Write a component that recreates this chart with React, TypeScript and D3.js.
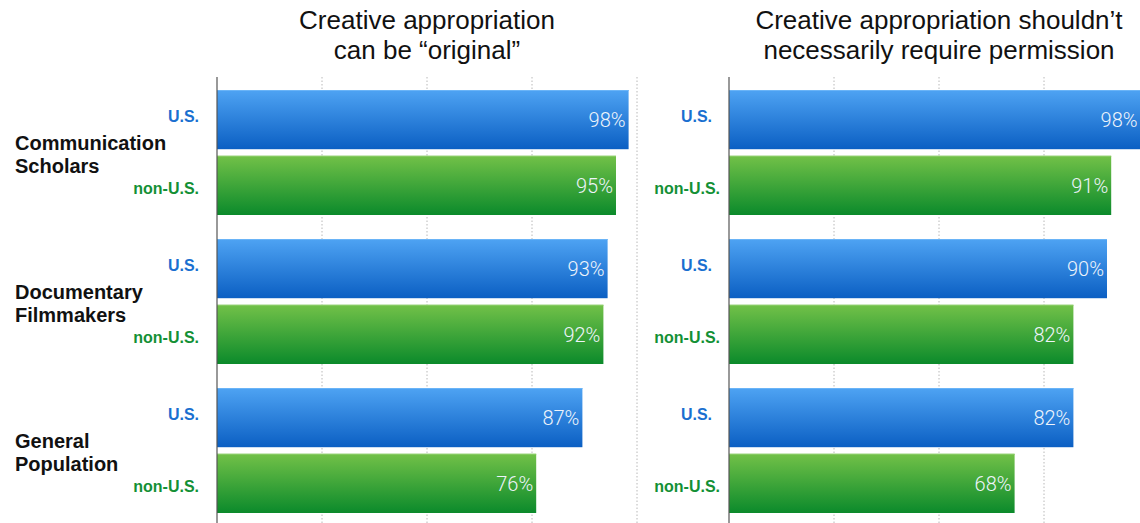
import React from "react";
import * as d3 from "d3";

const groups = ["Communication Scholars", "Documentary Filmmakers", "General Population"];
const groupLines = [["Communication", "Scholars"], ["Documentary", "Filmmakers"], ["General", "Population"]];
const seriesNames = ["U.S.", "non-U.S."];
const panelTitles = [
  ["Creative appropriation", "can be \u201coriginal\u201d"],
  ["Creative appropriation shouldn\u2019t", "necessarily require permission"],
];
// values[panel][group] = [U.S., non-U.S.]
const originalValues = [[98, 95], [93, 92], [87, 76]];
const permissionValues = [[98, 91], [90, 82], [82, 68]];
const gridTicks = [25, 50, 75, 100];

const W = 1140;
const H = 523;

const panels = [
  { x0: 217, x1: 637, values: originalValues, labelRight: [199, 199] },
  { x0: 729, x1: 1149, values: permissionValues, labelRight: [712, 720] },
];

const yGroup = d3.scaleBand<string>().domain(groups).range([90, 90 + 3 * 149]).paddingInner(0).paddingOuter(0);
const ySeries = d3.scaleBand<string>().domain(seriesNames).range([0, 125]).paddingInner(0.1);

const seriesColors = ["#1a6fd0", "#139035"];
const labelDy = [-3, 2.5];

export default function App() {
  return (
    <svg width={W} height={H} style={{ position: "absolute", left: 0, top: 0, background: "#fff" }}>
      <defs>
        <linearGradient id="gBlue" x1="0" y1="0" x2="0" y2="1">
          <stop offset="0" stopColor="#4ea3f3" />
          <stop offset="1" stopColor="#0b5fc3" />
        </linearGradient>
        <linearGradient id="gGreen" x1="0" y1="0" x2="0" y2="1">
          <stop offset="0" stopColor="#72c148" />
          <stop offset="1" stopColor="#0b8a2b" />
        </linearGradient>
        <clipPath id="clipAll">
          <rect x={0} y={0} width={W} height={H} />
        </clipPath>
      </defs>
      {panelTitles.map((lines, pi) => {
        const p = panels[pi];
        const cx = (p.x0 + p.x1) / 2;
        return (
          <text key={"t" + pi} x={cx} textAnchor="middle" fontFamily="'Liberation Sans', Arial, sans-serif" fontSize={26} fill="#111">
            <tspan x={cx} y={29}>{lines[0]}</tspan>
            <tspan x={cx} y={59}>{lines[1]}</tspan>
          </text>
        );
      })}
      {groupLines.map((lines, gi) => {
        const c = (yGroup(groups[gi]) as number) + 62.5;
        return (
          <text key={"g" + gi} fontFamily="'Liberation Sans', Arial, sans-serif" fontWeight="bold" fontSize={20} fill="#111">
            <tspan x={15} y={c - 2.5}>{lines[0]}</tspan>
            <tspan x={15} y={c + 20.5}>{lines[1]}</tspan>
          </text>
        );
      })}
      {panels.map((p, pi) => {
        const x = d3.scaleLinear().domain([0, 100]).range([p.x0, p.x1]);
        return (
          <g key={"p" + pi} clipPath="url(#clipAll)">
            {gridTicks.map((t) => (
              <line key={t} x1={x(t)} x2={x(t)} y1={77} y2={H} stroke="#b8b8b8" strokeWidth={1} strokeDasharray="1.5,2" />
            ))}
            {groups.map((g, gi) =>
              seriesNames.map((s, si) => {
                const v = p.values[gi][si];
                const y = (yGroup(g) as number) + (ySeries(s) as number);
                const h = ySeries.bandwidth();
                return (
                  <g key={g + s}>
                    <rect x={x(0)} y={y} width={x(v) - x(0)} height={h} fill={si === 0 ? "url(#gBlue)" : "url(#gGreen)"} />
                    <line x1={x(0)} x2={x(v)} y1={y + 0.5} y2={y + 0.5} stroke={si === 0 ? "#6ab4f7" : "#8ccc68"} strokeWidth={1} />
                    <text x={x(v) - 3} y={y + h / 2} dy="0.36em" textAnchor="end" fontFamily="Roboto, Lato, sans-serif" fontWeight={300} fontSize={20} fill="#eef4fb">
                      {v}%
                    </text>
                    <text x={p.labelRight[si]} y={y + h / 2 + labelDy[si]} dy="0.36em" textAnchor="end" fontFamily="'Liberation Sans', Arial, sans-serif" fontWeight="bold" fontSize={16} fill={seriesColors[si]}>
                      {s}
                    </text>
                  </g>
                );
              })
            )}
            <line x1={x(0)} x2={x(0)} y1={77} y2={H} stroke="#555" strokeWidth={1.2} />
          </g>
        );
      })}
    </svg>
  );
}
